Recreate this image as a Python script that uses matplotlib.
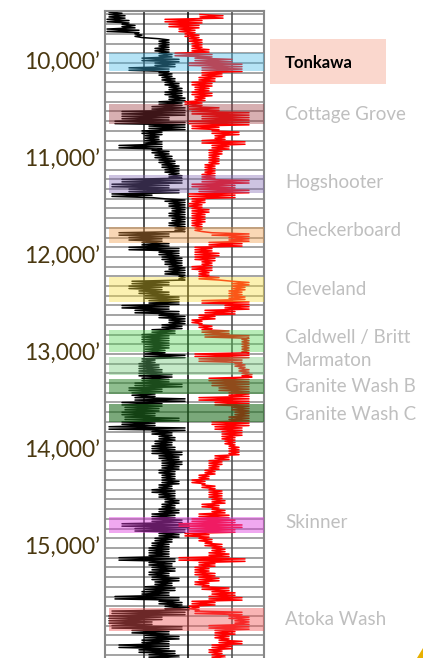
import numpy as np
import matplotlib
matplotlib.use("Agg")
import matplotlib.pyplot as plt
from matplotlib.patches import Rectangle, Polygon
from matplotlib.transforms import blended_transform_factory

plt.rcParams['font.family'] = ['Lato', 'DejaVu Sans']

# depth samples (ft), 50 ft spacing
depth = np.arange(9450, 16150, 50)

# black curve (left track): low / high edge of the trace at each sample
black_lo = [4, 4, 2, 17, 2, 30, 54, 54, 50, 54,
            37, 50, 24, 54, 57, 60, 64, 60, 64, 54,
            47, 17, 17, 10, 44, 37, 40, 40, 14, 47,
            50, 54, 57, 60, 64, 17, 7, 24, 7, 60,
            64, 67, 64, 67, 64, 70, 14, 24, 37, 24,
            54, 57, 60, 64, 60, 74, 27, 24, 34, 40,
            44, 17, 30, 54, 64, 57, 47, 37, 37, 40,
            40, 40, 37, 34, 34, 34, 37, 30, 24, 27,
            30, 17, 20, 17, 20, 17, 4, 47, 54, 50,
            47, 47, 54, 57, 57, 54, 57, 57, 54, 47,
            54, 60, 57, 54, 47, 47, 17, 30, 54, 50,
            47, 44, 44, 14, 44, 47, 44, 47, 50, 40,
            37, 10, 54, 60, 7, 4, 4, 7, 27, 40,
            37, 14, 34, 44]
black_hi = [17, 20, 24, 30, 34, 37, 64, 64, 64, 67,
            74, 70, 64, 67, 70, 74, 77, 77, 80, 77,
            80, 80, 64, 80, 80, 57, 54, 57, 57, 64,
            67, 70, 74, 74, 77, 77, 64, 74, 47, 80,
            80, 80, 80, 80, 80, 80, 64, 57, 64, 74,
            74, 77, 77, 80, 80, 80, 64, 57, 64, 74,
            74, 64, 74, 80, 80, 77, 70, 64, 64, 64,
            60, 80, 50, 54, 57, 67, 64, 77, 57, 50,
            80, 57, 54, 50, 74, 50, 80, 67, 70, 67,
            70, 77, 74, 77, 74, 70, 70, 74, 67, 70,
            70, 74, 70, 74, 70, 77, 84, 80, 74, 67,
            64, 64, 64, 70, 67, 70, 64, 74, 67, 70,
            64, 74, 77, 84, 80, 57, 47, 77, 64, 74,
            64, 64, 70, 74]

# red curve (right track)
nan = np.nan
red_lo = [nan, 95, 60, 64, 74, 80, 84, 87, 87, 70,
          90, 84, 97, 97, 94, 87, 90, 87, 90, 80,
          84, 87, 97, 84, 87, 107, 110, 97, 107, 104,
          104, 104, 100, 100, 97, 97, 87, 94, 84, 87,
          84, 87, 87, 87, 87, 90, 107, 124, 104, 90,
          90, 90, 97, 87, 94, 94, 127, 127, 124, 124,
          97, 120, 100, 94, 87, 94, 97, 100, 137, 137,
          137, 90, 94, 130, 134, 137, 104, 107, 114, 124,
          94, 110, 127, 130, 124, 107, 110, 117, 117, 120,
          124, 124, 110, 104, 104, 100, 94, 87, 97, 104,
          104, 107, 97, 107, 94, 87, 74, 84, 80, 94,
          100, 107, 104, 74, 94, 90, 90, 94, 90, 97,
          107, 104, 87, 84, 90, 124, 130, 104, 110, 110,
          114, 107, 104, 107]
red_hi = [nan, 118, 97, 94, 90, 94, 97, 97, 104, 107,
          127, 137, 137, 117, 110, 107, 104, 107, 100, 97,
          114, 144, 144, 144, 114, 134, 120, 140, 124, 117,
          114, 114, 110, 110, 110, 144, 130, 144, 130, 100,
          97, 104, 100, 100, 97, 97, 144, 144, 137, 107,
          114, 110, 107, 107, 104, 114, 144, 140, 137, 140,
          144, 144, 130, 110, 97, 107, 124, 144, 144, 144,
          144, 144, 137, 140, 144, 147, 144, 144, 144, 144,
          144, 144, 144, 144, 144, 144, 137, 137, 130, 130,
          134, 134, 124, 117, 114, 110, 104, 100, 110, 117,
          117, 120, 114, 120, 124, 130, 137, 130, 104, 107,
          117, 120, 124, 140, 110, 104, 110, 114, 104, 124,
          130, 137, 110, 94, 137, 144, 144, 144, 130, 124,
          137, 127, 117, 120]

# formations
formations = ["Tonkawa", "Cottage Grove", "Hogshooter", "Checkerboard", "Cleveland",
              "Caldwell / Britt", "Marmaton", "Granite Wash B", "Granite Wash C",
              "Skinner", "Atoka Wash"]
tops = [9897, 10423, 11155, 11691, 12206, 12753, 13031, 13258, 13515, 14680, 15619]
bases = [10082, 10629, 11340, 11856, 12464, 12979, 13216, 13412, 13701, 14845, 15856]
label_depth = [10000, 10526, 11227, 11732, 12330, 12835, 13072, 13330, 13619, 14742, 15742]
band_colors = ["#46b9e6", "#9b373e", "#8269b4", "#f09b46", "#f5dc3c", "#4ed04e",
               "#6ec876", "#338a33", "#216e21", "#de3ede", "#f05959"]
band_alpha = [0.4, 0.4, 0.4, 0.4, 0.4, 0.4, 0.4, 0.55, 0.6, 0.45, 0.45]

depth_ticks = [10000, 11000, 12000, 13000, 14000, 15000]


def zigzag(lo, hi):
    # trace swings between its low and high edge twice per sample
    n = len(lo)
    xs = np.empty(4 * n)
    ys = np.empty(4 * n)
    xs[0::4] = lo
    xs[1::4] = hi
    xs[2::4] = lo
    xs[3::4] = hi
    for k in range(4):
        ys[k::4] = depth + 12.5 * k
    return xs, ys


fig = plt.figure(figsize=(4.23, 6.58), dpi=100)
ax = fig.add_axes([105 / 423, 0, 159 / 423, 647 / 658])
ax.set_xlim(0, 159)
ax.set_ylim(16134, 9464)

for d in range(9500, 16200, 100):
    ax.axhline(d, color="#8a8a8a", lw=1.1, zorder=1)
for xv, c in [(39, "#333333"), (83, "#111111"), (127, "#555555")]:
    ax.axvline(xv, color=c, lw=1.2, zorder=1)

bx, by = zigzag(black_lo, black_hi)
ax.plot(bx, by, color="black", lw=1.1, zorder=2)
rx, ry = zigzag(red_lo, red_hi)
ax.plot(rx, ry, color="#ff0000", lw=1.1, zorder=2)

for t, b, c, a in zip(tops, bases, band_colors, band_alpha):
    ax.axhspan(t, b, xmin=4 / 159, xmax=1, color=c, alpha=a, lw=0, zorder=3)

for s in ax.spines.values():
    s.set_color("#888888")
    s.set_linewidth(1.5)
ax.spines["bottom"].set_visible(False)
ax.set_xticks([])
ax.set_yticks([])

trans = blended_transform_factory(ax.transAxes, ax.transData)
for d in depth_ticks:
    ax.text(-0.031, d, f"{d:,}\u2019", transform=trans, ha="right", va="center",
            fontsize=16.5, color="#4a3810")

# highlighted label box
fig.add_artist(Rectangle((270 / 423, 1 - 84 / 658), 116 / 423, 45 / 658,
                         transform=fig.transFigure, color="#fad7cd", lw=0, zorder=0))

for name, d in zip(formations, label_depth):
    if name == "Tonkawa":
        ax.text(1.132, d, name, transform=trans, ha="left", va="center",
                fontsize=12, fontweight="bold", color="black", clip_on=False)
    else:
        ax.text(1.132, d, name, transform=trans, ha="left", va="center",
                fontsize=13.5, color="#bfbfbf", clip_on=False)

fig.add_artist(Polygon([(417 / 423, 0), (1, 10 / 658), (1, 0)], closed=True,
                       transform=fig.transFigure, color="#e8b000", lw=0))

fig.savefig("out.png", dpi=100)
